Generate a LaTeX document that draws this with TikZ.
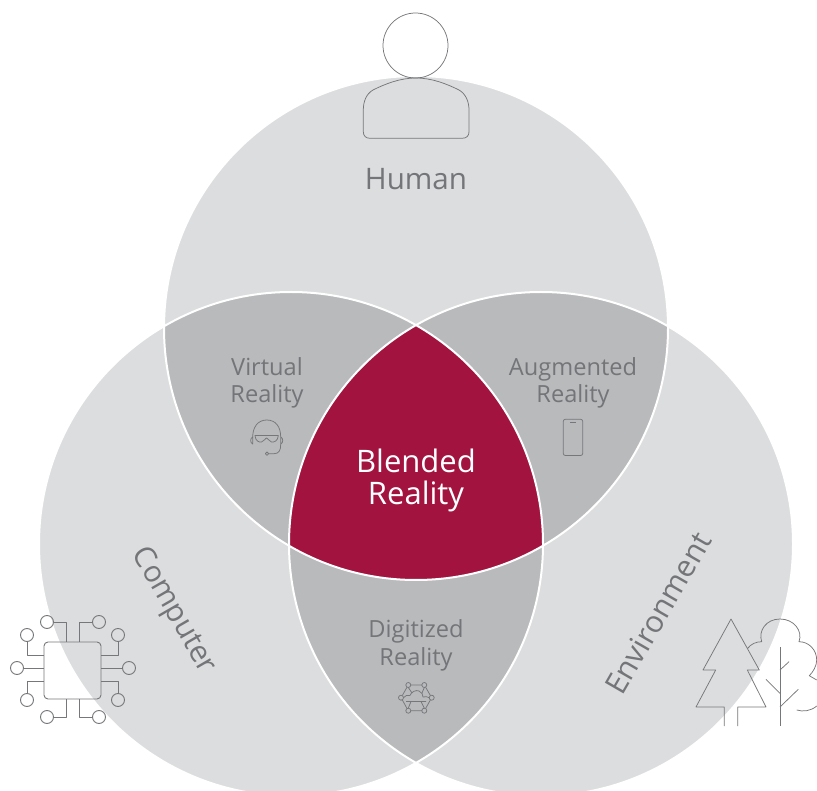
\documentclass[tikz,border=0pt]{standalone}
\usepackage{fontspec}
\setmainfont{Open Sans}
\definecolor{lightg}{HTML}{DCDDDE}
\definecolor{midg}{HTML}{B9BABC}
\definecolor{redb}{HTML}{A21340}
\definecolor{txt}{HTML}{747578}
\definecolor{ico}{HTML}{76777A}
\tikzset{
  lbl/.style 2 args={text=txt,font=\fontsize{#1}{#2}\selectfont,inner sep=0pt,align=center},
  icon/.style={draw=ico,line width=0.9pt,line join=round,fill=none},
  thin icon/.style={draw=ico,line width=0.75pt,line join=round,fill=none}
}
\begin{document}
\begin{tikzpicture}[x=1pt,y=-1pt]
\useasboundingbox (0,0) rectangle (817,791);
\clip (0,0) rectangle (817,791);
\def\rr{252pt}
\coordinate (T) at (416,328);
\coordinate (L) at (291,544);
\coordinate (R) at (541,544);
\fill[lightg] (T) circle[radius=\rr] (L) circle[radius=\rr] (R) circle[radius=\rr];
\begin{scope}\clip (T) circle[radius=\rr]; \fill[midg] (L) circle[radius=\rr]; \fill[midg] (R) circle[radius=\rr];\end{scope}
\begin{scope}\clip (L) circle[radius=\rr]; \fill[midg] (R) circle[radius=\rr];\end{scope}
\begin{scope}\clip (T) circle[radius=\rr]; \clip (L) circle[radius=\rr]; \fill[redb] (R) circle[radius=\rr];\end{scope}
\draw[white,line width=2pt] (T) circle[radius=\rr] (L) circle[radius=\rr] (R) circle[radius=\rr];
% labels
\node[lbl={29.6}{32}] (human) at (416,179) {Human};
\node[lbl={23.6}{27.3}] (vr) at (267,383) {Virtual\\Reality};
\node[lbl={23.6}{27.3}] (ar) at (573,383) {Augmented\\Reality};
\node[lbl={23.6}{27.3}] (dr) at (416,645.5) {Digitized\\Reality};
\node[lbl={31}{32},text=white] (br) at (416,480) {Blended\\Reality};
\node[lbl={29.8}{32},rotate=-60] (comp) at (173,611) {Computer};
\node[lbl={30.2}{32},rotate=60] (env) at (658,613) {Environment};
% person
\draw[thin icon] (415.5,45.5) circle[radius=32.5];
\draw[thin icon] (416,78) .. controls (400,78) and (385,84) .. (373,90) .. controls (366,94) and (363.3,102) .. (363.3,110) -- (363.3,131.7) .. controls (363.3,136) and (366,138.3) .. (370,138.3) -- (462,138.3) .. controls (466.5,138.3) and (469,136) .. (469,131.7) -- (469,110) .. controls (469,102) and (466,94) .. (459,90) .. controls (447,84) and (432,78) .. (416,78);
% chip
\draw[icon,rounded corners=4pt] (44,642) rectangle (101,699);
\foreach \x/\y in {47/622,99/622,27/635,118/635,17/668,129/668,27/700,118/700,47/717,99/717}
  \draw[icon] (\x,\y) circle[radius=6.5];
\draw[icon] (53.5,622) -- (66,622) -- (66,642);
\draw[icon] (92.5,622) -- (79,622) -- (79,642);
\draw[icon] (27,641.5) -- (27,655) -- (44,655);
\draw[icon] (118,641.5) -- (118,655) -- (101,655);
\draw[icon] (23.5,668) -- (44,668);
\draw[icon] (122.5,668) -- (101,668);
\draw[icon] (27,693.5) -- (27,681) -- (44,681);
\draw[icon] (118,693.5) -- (118,681) -- (101,681);
\draw[icon] (53.5,717) -- (66,717) -- (66,699);
\draw[icon] (92.5,717) -- (79,717) -- (79,699);
% trees
\draw[thin icon] (724.3,726) -- (724.3,707) -- (696,707) -- (715.7,670) -- (703,670) -- (731,619) -- (759.3,670) -- (747.3,670) -- (766,707) -- (737.7,707) -- (737.7,726);
\draw[thin icon] (747.7,648.3) .. controls (751,644) and (756,641.7) .. (761.7,641.7) .. controls (758,631) and (766,619) .. (780,619) .. controls (794,619) and (803,631) .. (799,641.7) .. controls (809,641.7) and (816.7,650) .. (816.7,660) .. controls (816.7,666) and (813,672) .. (809.3,675.7) -- (816.7,680);
\draw[thin icon] (816.7,706) .. controls (811,711) and (803,712) .. (796.7,710);
\draw[thin icon] (780,647.3) -- (780,726);
\draw[thin icon] (780,670) -- (789,661.7);
\draw[thin icon] (766,679.3) -- (780,693.3);
\draw[thin icon] (780,707) -- (798.3,689.3);
% goggles head
\draw[thin icon] (252.7,437) .. controls (252.7,427) and (258,420) .. (266.7,420) .. controls (276,420) and (280.7,427) .. (280.7,437);
\draw[thin icon] (252.7,437) .. controls (250,438) and (250,443) .. (252.7,444) -- cycle;
\draw[thin icon] (280.7,437) .. controls (283.4,438) and (283.4,443) .. (280.7,444) -- cycle;
\draw[thin icon] (255,435.5) -- (278.3,435.5) .. controls (278,441) and (274,442.5) .. (271.5,442) .. controls (269,441.5) and (268,438) .. (266.7,438) .. controls (265.4,438) and (264,441.5) .. (261.5,442) .. controls (259,442.5) and (255.3,441) .. (255,435.5) -- cycle;
\draw[thin icon] (280.7,444) .. controls (281,450) and (279,453.7) .. (274,453.7) -- (268.8,453.7);
\draw[thin icon] (267,453.7) circle[radius=1.7];
% phone
\draw[thin icon,rounded corners=2pt] (563.3,419.3) rectangle (582.7,455.5);
\draw[thin icon] (570,422.7) -- (576,422.7);
% network
\foreach \x/\y in {408.3/685,424.3/685,401/697.7,431.7/697.7,408.3/710.7,424.3/710.7}
  \draw[thin icon] (\x,\y) circle[radius=2.5];
\draw[thin icon] (410.8,685) -- (421.8,685) (425.6,687.2) -- (430.4,695.5) (430.4,699.9) -- (425.6,708.5) (421.8,710.7) -- (410.8,710.7) (407,708.5) -- (402.3,699.9) (402.3,695.5) -- (407,687.2);
\draw[thin icon] (403.5,697.7) .. controls (405,695) and (408,695) .. (410,695.5) .. controls (411,692) and (416,689.5) .. (419,691) .. controls (422,692) and (423,695) .. (423,697) .. controls (425,696) and (428,697) .. (429.2,697.7);
\draw[thin icon] (406,701.5) -- (426,701.5) (408.3,708.2) -- (411,701.5) (424.3,708.2) -- (421,701.5) (408.3,687.5) -- (412,693) (424.3,687.5) -- (422,693);
\end{tikzpicture}
\end{document}
